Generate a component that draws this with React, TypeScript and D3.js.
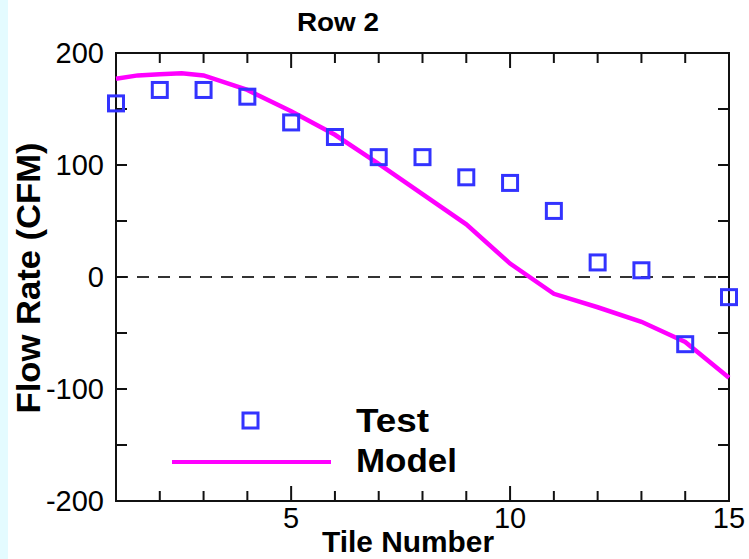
import React from 'react';
import * as d3 from 'd3';

// tile numbers and measured flow (squares)
const tiles = [1, 2, 3, 4, 5, 6, 7, 8, 9, 10, 11, 12, 13, 14, 15];
const testFlow = [155, 167, 167, 161, 138, 125, 107, 107, 89, 84, 59, 13, 6, -60, -18];

// model curve
const modelX = [1, 1.5, 2, 2.5, 3, 4, 5, 6, 7, 8, 9, 10, 11, 12, 13, 14, 15];
const modelFlow = [177, 180, 181, 182, 180, 167, 148, 127, 101, 74, 47, 12, -15, -27, -40, -58, -90];

const xTickLabels = [5, 10, 15];
const yTickLabels = [-200, -100, 0, 100, 200];

const W = 749;
const H = 559;
const font = 'Liberation Sans, Arial, Helvetica, sans-serif';

const App = () => {
  const x = d3.scaleLinear().domain([1, 15]).range([116, 729]);
  const y = d3.scaleLinear().domain([-200, 200]).range([501, 53]);

  const line = d3.line<number>()
    .x((_, i) => x(modelX[i]))
    .y(d => y(d));

  const xMinor = d3.range(1, 16);
  const yMinor = d3.range(-200, 201, 50);

  const [x0, x1] = x.range();
  const [yb, yt] = y.range();

  return (
    <svg width={W} height={H} style={{ position: 'absolute', left: 0, top: 0, background: '#fff' }}>
      <rect x={0} y={0} width={8} height={H} fill="#e4fbff" />

      {/* title */}
      <text x={338} y={31} textAnchor="middle" fontFamily={font} fontWeight="bold" fontSize={26}
        textLength={82} lengthAdjust="spacingAndGlyphs">Row 2</text>

      {/* zero line */}
      <line x1={x0} x2={x1} y1={y(0)} y2={y(0)} stroke="#333" strokeWidth={2} strokeDasharray="12,9" />

      {/* ticks, inward on all four sides */}
      {xMinor.map(t => {
        const len = t % 5 === 0 ? 15 : 10;
        return (
          <g key={'xt' + t} stroke="#111" strokeWidth={2}>
            <line x1={x(t)} x2={x(t)} y1={yb} y2={yb - len} />
            <line x1={x(t)} x2={x(t)} y1={yt} y2={yt + len} />
          </g>
        );
      })}
      {yMinor.map(t => (
        <g key={'yt' + t} stroke="#111" strokeWidth={2}>
          <line x1={x0} x2={x0 + 11} y1={y(t)} y2={y(t)} />
          <line x1={x1} x2={x1 - 11} y1={y(t)} y2={y(t)} />
        </g>
      ))}

      {/* frame */}
      <rect x={x0} y={yt} width={x1 - x0} height={yb - yt} fill="none" stroke="#111" strokeWidth={2} />

      {/* model */}
      <path d={line(modelFlow) || ''} fill="none" stroke="#ff00ff" strokeWidth={4.5} />

      {/* test squares */}
      {testFlow.map((v, i) => (
        <rect key={'s' + i} x={x(tiles[i]) - 7.5} y={y(v) - 7.5} width={15} height={15}
          fill="none" stroke="#3333ff" strokeWidth={3} />
      ))}

      {/* tick labels */}
      {yTickLabels.map(t => (
        <text key={'yl' + t} x={104} y={y(t)} dy="0.36em" textAnchor="end" fontFamily={font} fontSize={29}>{t}</text>
      ))}
      {xTickLabels.map(t => (
        <text key={'xl' + t} x={x(t)} y={528} textAnchor="middle" fontFamily={font} fontSize={29}>{t}</text>
      ))}

      {/* axis titles */}
      <text x={408} y={552} textAnchor="middle" fontFamily={font} fontWeight="bold" fontSize={30}
        textLength={172} lengthAdjust="spacingAndGlyphs">Tile Number</text>
      <text transform="translate(40,278) rotate(-90)" textAnchor="middle" fontFamily={font} fontWeight="bold"
        fontSize={33} textLength={271} lengthAdjust="spacingAndGlyphs">Flow Rate (CFM)</text>

      {/* legend */}
      <rect x={243} y={413} width={15} height={15} fill="none" stroke="#3333ff" strokeWidth={3} />
      <text x={356} y={432} fontFamily={font} fontWeight="bold" fontSize={33} textLength={73} lengthAdjust="spacingAndGlyphs">Test</text>
      <line x1={172} x2={331} y1={462} y2={462} stroke="#ff00ff" strokeWidth={4} />
      <text x={356} y={472} fontFamily={font} fontWeight="bold" fontSize={33} textLength={101} lengthAdjust="spacingAndGlyphs">Model</text>
    </svg>
  );
};

export default App;
